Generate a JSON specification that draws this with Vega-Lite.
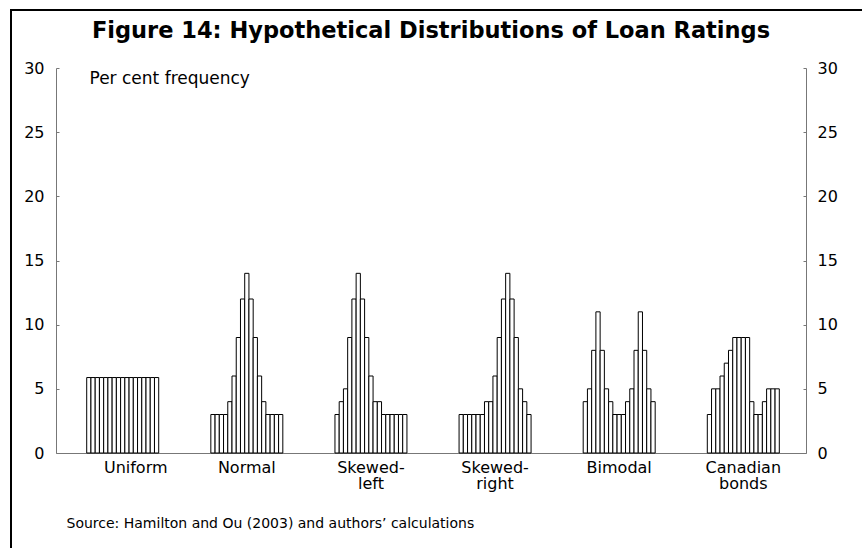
{
  "$schema": "https://vega.github.io/schema/vega-lite/v6.json",
  "width": 860,
  "height": 545,
  "autosize": {"type": "none"},
  "padding": {"left": 11, "top": 10, "right": 0, "bottom": 0},
  "background": "white",
  "title": {
    "text": "Figure 14: Hypothetical Distributions of Loan Ratings",
    "frame": "group", "anchor": "middle", "orient": "top", "offset": -22,
    "dy": 28, "dx": -10, "baseline": "alphabetic",
    "font": "DejaVu Sans", "fontSize": 22.5, "fontWeight": "bold", "color": "black"
  },
  "data": {"values": [
    {"dist": "Uniform", "rating": 1, "pct": 5.88}, {"dist": "Uniform", "rating": 2, "pct": 5.88}, {"dist": "Uniform", "rating": 3, "pct": 5.88}, {"dist": "Uniform", "rating": 4, "pct": 5.88}, {"dist": "Uniform", "rating": 5, "pct": 5.88}, {"dist": "Uniform", "rating": 6, "pct": 5.88}, {"dist": "Uniform", "rating": 7, "pct": 5.88}, {"dist": "Uniform", "rating": 8, "pct": 5.88}, {"dist": "Uniform", "rating": 9, "pct": 5.88}, {"dist": "Uniform", "rating": 10, "pct": 5.88}, {"dist": "Uniform", "rating": 11, "pct": 5.88}, {"dist": "Uniform", "rating": 12, "pct": 5.88}, {"dist": "Uniform", "rating": 13, "pct": 5.88}, {"dist": "Uniform", "rating": 14, "pct": 5.88}, {"dist": "Uniform", "rating": 15, "pct": 5.88}, {"dist": "Uniform", "rating": 16, "pct": 5.88}, {"dist": "Uniform", "rating": 17, "pct": 5.88},
    {"dist": "Normal", "rating": 1, "pct": 3}, {"dist": "Normal", "rating": 2, "pct": 3}, {"dist": "Normal", "rating": 3, "pct": 3}, {"dist": "Normal", "rating": 4, "pct": 3}, {"dist": "Normal", "rating": 5, "pct": 4}, {"dist": "Normal", "rating": 6, "pct": 6}, {"dist": "Normal", "rating": 7, "pct": 9}, {"dist": "Normal", "rating": 8, "pct": 12}, {"dist": "Normal", "rating": 9, "pct": 14}, {"dist": "Normal", "rating": 10, "pct": 12}, {"dist": "Normal", "rating": 11, "pct": 9}, {"dist": "Normal", "rating": 12, "pct": 6}, {"dist": "Normal", "rating": 13, "pct": 4}, {"dist": "Normal", "rating": 14, "pct": 3}, {"dist": "Normal", "rating": 15, "pct": 3}, {"dist": "Normal", "rating": 16, "pct": 3}, {"dist": "Normal", "rating": 17, "pct": 3},
    {"dist": "Skewed-|left", "rating": 1, "pct": 3}, {"dist": "Skewed-|left", "rating": 2, "pct": 4}, {"dist": "Skewed-|left", "rating": 3, "pct": 5}, {"dist": "Skewed-|left", "rating": 4, "pct": 9}, {"dist": "Skewed-|left", "rating": 5, "pct": 12}, {"dist": "Skewed-|left", "rating": 6, "pct": 14}, {"dist": "Skewed-|left", "rating": 7, "pct": 12}, {"dist": "Skewed-|left", "rating": 8, "pct": 9}, {"dist": "Skewed-|left", "rating": 9, "pct": 6}, {"dist": "Skewed-|left", "rating": 10, "pct": 4}, {"dist": "Skewed-|left", "rating": 11, "pct": 4}, {"dist": "Skewed-|left", "rating": 12, "pct": 3}, {"dist": "Skewed-|left", "rating": 13, "pct": 3}, {"dist": "Skewed-|left", "rating": 14, "pct": 3}, {"dist": "Skewed-|left", "rating": 15, "pct": 3}, {"dist": "Skewed-|left", "rating": 16, "pct": 3}, {"dist": "Skewed-|left", "rating": 17, "pct": 3},
    {"dist": "Skewed-|right", "rating": 1, "pct": 3}, {"dist": "Skewed-|right", "rating": 2, "pct": 3}, {"dist": "Skewed-|right", "rating": 3, "pct": 3}, {"dist": "Skewed-|right", "rating": 4, "pct": 3}, {"dist": "Skewed-|right", "rating": 5, "pct": 3}, {"dist": "Skewed-|right", "rating": 6, "pct": 3}, {"dist": "Skewed-|right", "rating": 7, "pct": 4}, {"dist": "Skewed-|right", "rating": 8, "pct": 4}, {"dist": "Skewed-|right", "rating": 9, "pct": 6}, {"dist": "Skewed-|right", "rating": 10, "pct": 9}, {"dist": "Skewed-|right", "rating": 11, "pct": 12}, {"dist": "Skewed-|right", "rating": 12, "pct": 14}, {"dist": "Skewed-|right", "rating": 13, "pct": 12}, {"dist": "Skewed-|right", "rating": 14, "pct": 9}, {"dist": "Skewed-|right", "rating": 15, "pct": 5}, {"dist": "Skewed-|right", "rating": 16, "pct": 4}, {"dist": "Skewed-|right", "rating": 17, "pct": 3},
    {"dist": "Bimodal", "rating": 1, "pct": 4}, {"dist": "Bimodal", "rating": 2, "pct": 5}, {"dist": "Bimodal", "rating": 3, "pct": 8}, {"dist": "Bimodal", "rating": 4, "pct": 11}, {"dist": "Bimodal", "rating": 5, "pct": 8}, {"dist": "Bimodal", "rating": 6, "pct": 5}, {"dist": "Bimodal", "rating": 7, "pct": 4}, {"dist": "Bimodal", "rating": 8, "pct": 3}, {"dist": "Bimodal", "rating": 9, "pct": 3}, {"dist": "Bimodal", "rating": 10, "pct": 3}, {"dist": "Bimodal", "rating": 11, "pct": 4}, {"dist": "Bimodal", "rating": 12, "pct": 5}, {"dist": "Bimodal", "rating": 13, "pct": 8}, {"dist": "Bimodal", "rating": 14, "pct": 11}, {"dist": "Bimodal", "rating": 15, "pct": 8}, {"dist": "Bimodal", "rating": 16, "pct": 5}, {"dist": "Bimodal", "rating": 17, "pct": 4},
    {"dist": "Canadian|bonds", "rating": 1, "pct": 3}, {"dist": "Canadian|bonds", "rating": 2, "pct": 5}, {"dist": "Canadian|bonds", "rating": 3, "pct": 5}, {"dist": "Canadian|bonds", "rating": 4, "pct": 6}, {"dist": "Canadian|bonds", "rating": 5, "pct": 7}, {"dist": "Canadian|bonds", "rating": 6, "pct": 8}, {"dist": "Canadian|bonds", "rating": 7, "pct": 9}, {"dist": "Canadian|bonds", "rating": 8, "pct": 9}, {"dist": "Canadian|bonds", "rating": 9, "pct": 9}, {"dist": "Canadian|bonds", "rating": 10, "pct": 9}, {"dist": "Canadian|bonds", "rating": 11, "pct": 4}, {"dist": "Canadian|bonds", "rating": 12, "pct": 3}, {"dist": "Canadian|bonds", "rating": 13, "pct": 3}, {"dist": "Canadian|bonds", "rating": 14, "pct": 4}, {"dist": "Canadian|bonds", "rating": 15, "pct": 5}, {"dist": "Canadian|bonds", "rating": 16, "pct": 5}, {"dist": "Canadian|bonds", "rating": 17, "pct": 5}
  ]},
  "layer": [
    {
      "mark": {"type": "bar", "fill": "white", "stroke": "black", "strokeWidth": 1},
      "encoding": {
        "x": {
          "field": "dist", "type": "nominal",
          "sort": ["Uniform", "Normal", "Skewed-|left", "Skewed-|right", "Bimodal", "Canadian|bonds"],
          "scale": {"range": [45, 795], "paddingInner": 0.42, "paddingOuter": 0.2313, "align": 0.535},
          "axis": {
            "orient": "bottom", "offset": -102, "ticks": false, "labelAngle": 0,
            "labelExpr": "split(datum.label, '|')",
            "labelOffset": {"condition": {"test": "datum.value === 'Uniform'", "value": 13}, "value": 0},
            "labelBaseline": "top", "labelPadding": 6,
            "labelLineHeight": 16, "labelFontSize": 16, "labelColor": "black",
            "title": "Source: Hamilton and Ou (2003) and authors’ calculations",
            "titleX": 55, "titleY": 74, "titleAlign": "left", "titleAnchor": "start", "titleBaseline": "alphabetic",
            "titleFontSize": 14, "titleFontWeight": "normal", "titleColor": "black"
          }
        },
        "xOffset": {"field": "rating", "type": "ordinal", "scale": {"paddingInner": 0, "paddingOuter": 0}},
        "y": {
          "field": "pct", "type": "quantitative",
          "scale": {"domain": [0, 30], "range": [443, 58], "nice": false, "zero": true},
          "axis": {
            "orient": "left", "offset": -45, "values": [0, 5, 10, 15, 20, 25, 30],
            "tickSize": -3, "labelPadding": 15,
            "title": "Per cent frequency", "titleAngle": 0, "titleX": 33, "titleY": 73,
            "titleAlign": "left", "titleBaseline": "alphabetic", "titleFontSize": 17,
            "titleFontWeight": "normal", "titleColor": "black"
          }
        }
      }
    },
    {
      "mark": {"type": "rule", "strokeOpacity": 0},
      "encoding": {
        "y": {
          "field": "pct", "type": "quantitative",
          "axis": {
            "orient": "right", "offset": -65, "values": [0, 5, 10, 15, 20, 25, 30],
            "tickSize": -3, "labelPadding": 14, "title": null
          }
        }
      }
    }
  ],
  "resolve": {"axis": {"y": "independent"}},
  "config": {
    "view": {"stroke": "black", "strokeWidth": 2},
    "font": "DejaVu Sans",
    "axis": {
      "grid": false, "domainColor": "#777777", "tickColor": "#777777", "domainWidth": 1, "tickWidth": 1,
      "labelFont": "DejaVu Sans", "labelFontSize": 16, "labelColor": "black", "titleFont": "DejaVu Sans"
    }
  }
}
